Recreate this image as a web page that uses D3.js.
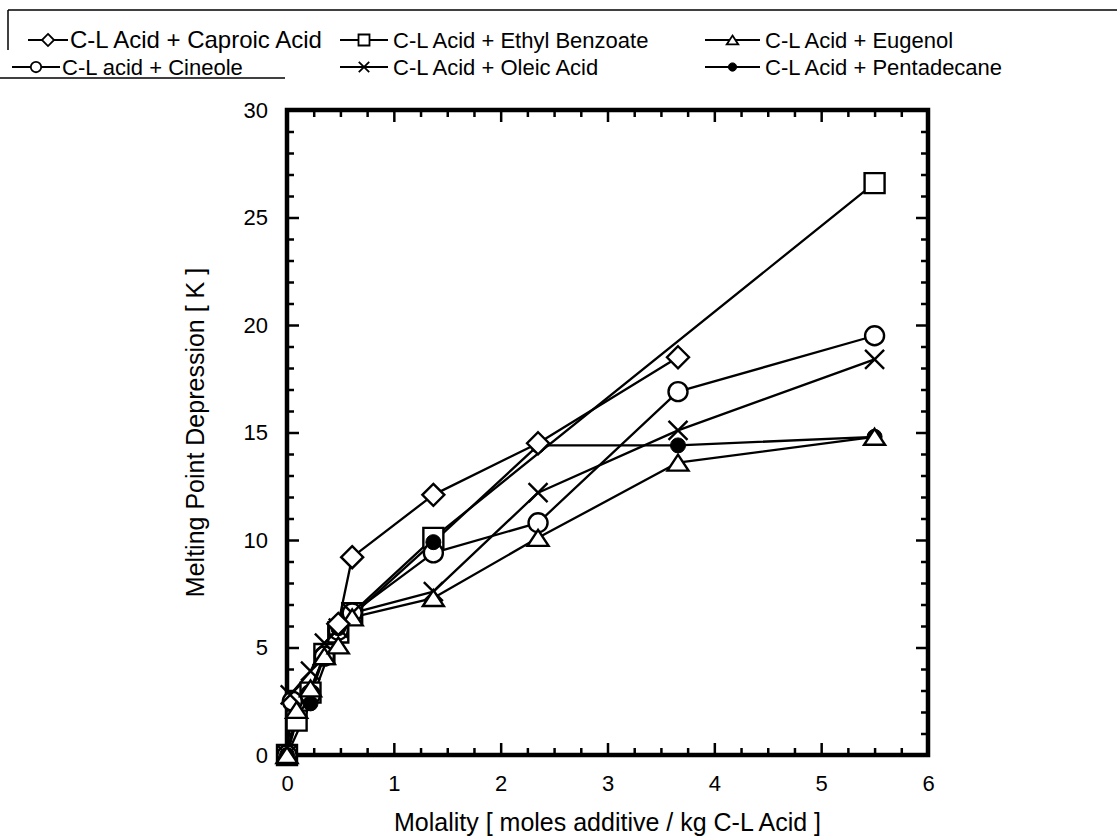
<!DOCTYPE html>
<html>
<head>
<meta charset="utf-8">
<script src="https://cdn.jsdelivr.net/npm/d3@7"></script>
<style>
  html, body { margin: 0; padding: 0; background: #fff; }
  svg { display: block; }
  text { font-family: "Liberation Sans", Arial, sans-serif; fill: #000; }
</style>
</head>
<body>
<svg id="chart" width="1117" height="836"></svg>
<script>
// ---- data (molality, depression) ----
const caproic     = [[0.48,6.1],[0.61,9.2],[1.37,12.1],[2.35,14.5],[3.66,18.5]];
const ethylBenz   = [[0,0],[0.09,1.6],[0.22,2.9],[0.35,4.7],[0.48,5.7],[0.61,6.6],[1.37,10.1],[5.5,26.6]];
const eugenol     = [[0,0],[0.09,2.1],[0.22,3.1],[0.35,4.6],[0.48,5.1],[0.61,6.4],[1.37,7.3],[2.35,10.1],[3.66,13.6],[5.5,14.8]];
const cineole     = [[0,0],[0.05,2.5],[0.22,2.8],[0.35,4.6],[0.48,5.8],[0.61,6.6],[1.37,9.4],[2.35,10.8],[3.66,16.9],[5.5,19.5]];
const oleic       = [[0,0],[0.03,2.8],[0.22,3.9],[0.35,5.2],[0.48,5.9],[0.61,6.6],[1.37,7.6],[2.35,12.2],[3.66,15.1],[5.5,18.4]];
const pentadecane = [[0,0],[0.22,2.4],[0.48,5.9],[1.37,9.9],[2.35,14.4],[3.66,14.4],[5.5,14.8]];

const seriesNames = ["C-L Acid + Caproic Acid","C-L Acid + Ethyl Benzoate","C-L Acid + Eugenol",
                     "C-L acid + Cineole","C-L Acid + Oleic Acid","C-L Acid + Pentadecane"];
const xTickLabels = [0,1,2,3,4,5,6];
const yTickLabels = [0,5,10,15,20,25,30];
const xTitle = "Molality [ moles additive / kg C-L Acid ]";
const yTitle = "Melting Point Depression [ K ]";

// ---- setup ----
const svg = d3.select("#chart");
const x = d3.scaleLinear().domain([0,6]).range([287,928]);
const y = d3.scaleLinear().domain([0,30]).range([755,110]);

function symPath(type, s) {
  switch(type) {
    case "diamond": { const h=11*s; return `M0,${-h}L${h},0L0,${h}L${-h},0Z`; }
    case "square":  { const h=10*s; return `M${-h},${-h}H${h}V${h}H${-h}Z`; }
    case "triangle":{ const w=10.5*s, h=8*s; return `M0,${-h}L${w},${h}L${-w},${h}Z`; }
    case "circle":  { const r=9.5*s; return `M${r},0A${r},${r} 0 1,1 ${-r},0A${r},${r} 0 1,1 ${r},0Z`; }
    case "fcircle": { const r=7.5*s; return `M${r},0A${r},${r} 0 1,1 ${-r},0A${r},${r} 0 1,1 ${r},0Z`; }
    case "cross":   { const h=9.5*s; return `M${-h},${-h}L${h},${h}M${-h},${h}L${h},${-h}`; }
  }
}

const series = [
  {name: seriesNames[0], data: caproic,     sym: "diamond"},
  {name: seriesNames[1], data: ethylBenz,   sym: "square"},
  {name: seriesNames[2], data: eugenol,     sym: "triangle"},
  {name: seriesNames[3], data: cineole,     sym: "circle"},
  {name: seriesNames[4], data: oleic,       sym: "cross"},
  {name: seriesNames[5], data: pentadecane, sym: "fcircle"}
];
function styleSym(sel, type) {
  if (type === "fcircle") sel.attr("fill","#000").attr("stroke","#000").attr("stroke-width",1);
  else if (type === "cross") sel.attr("fill","none").attr("stroke","#000").attr("stroke-width",2.4);
  else sel.attr("fill","#fff").attr("stroke","#000").attr("stroke-width",2.4);
}

// ---- axes frame & ticks ----
const gAx = svg.append("g");
const xMinor = d3.range(0, 6.001, 0.25).filter(v => Math.abs(v - Math.round(v)) > 1e-6);
const yMinor = d3.range(0, 30.001, 1).filter(v => v % 5 !== 0);
const tickFont = "22px";

function addAxis(gen, transform) {
  const g = gAx.append("g").attr("transform", transform).call(gen);
  g.select(".domain").remove();
  g.selectAll(".tick line").attr("stroke","#000").attr("stroke-width",2.5);
  g.selectAll("text").style("font-family","'Liberation Sans', Arial, sans-serif").style("font-size",tickFont).attr("fill","#000");
  return g;
}
addAxis(d3.axisBottom(x).tickValues(xTickLabels).tickSize(-12).tickPadding(20).tickFormat(d3.format("d")), `translate(0,${y(0)})`);
addAxis(d3.axisBottom(x).tickValues(xMinor).tickSize(-7).tickFormat(""), `translate(0,${y(0)})`);
addAxis(d3.axisTop(x).tickValues(xTickLabels).tickSize(-12).tickFormat(""), `translate(0,${y(30)})`);
addAxis(d3.axisTop(x).tickValues(xMinor).tickSize(-7).tickFormat(""), `translate(0,${y(30)})`);
addAxis(d3.axisLeft(y).tickValues(yTickLabels).tickSize(-12).tickPadding(19).tickFormat(d3.format("d")), `translate(${x(0)},0)`);
addAxis(d3.axisLeft(y).tickValues(yMinor).tickSize(-7).tickFormat(""), `translate(${x(0)},0)`);
addAxis(d3.axisRight(y).tickValues(yTickLabels).tickSize(-12).tickFormat(""), `translate(${x(6)},0)`);
addAxis(d3.axisRight(y).tickValues(yMinor).tickSize(-7).tickFormat(""), `translate(${x(6)},0)`);

gAx.append("rect")
  .attr("x", x(0)).attr("y", y(30))
  .attr("width", x(6)-x(0)).attr("height", y(0)-y(30))
  .attr("fill","none").attr("stroke","#000").attr("stroke-width",4.5);

// axis titles
svg.append("text").attr("x", (x(0)+x(6))/2).attr("y", 822).attr("dy","0.35em")
  .attr("text-anchor","middle").style("font-size","25px").text(xTitle);
svg.append("text").attr("transform", `translate(195,${(y(0)+y(30))/2}) rotate(-90)`).attr("dy","0.35em")
  .attr("text-anchor","middle").style("font-size","25px").text(yTitle);

// ---- lines ----
const line = d3.line().x(d => x(d[0])).y(d => y(d[1]));
const gLines = svg.append("g");
series.forEach(s => {
  gLines.append("path").attr("d", line(s.data))
    .attr("fill","none").attr("stroke","#000").attr("stroke-width",2.3).attr("stroke-linejoin","round");
});

// ---- markers ----
const drawOrder = [1,3,4,5,2,0];
const gMarks = svg.append("g");
drawOrder.forEach(i => {
  const s = series[i];
  const sel = gMarks.selectAll(null).data(s.data).enter().append("path")
    .attr("d", symPath(s.sym, 1))
    .attr("transform", d => `translate(${x(d[0])},${y(d[1])})`);
  styleSym(sel, s.sym);
});

// ---- legend ----
const gLeg = svg.append("g");
gLeg.append("line").attr("x1",8).attr("x2",1117).attr("y1",10).attr("y2",10).attr("stroke","#000").attr("stroke-width",1.5);
gLeg.append("line").attr("x1",8).attr("x2",8).attr("y1",10).attr("y2",50).attr("stroke","#000").attr("stroke-width",1.5);
gLeg.append("line").attr("x1",0).attr("x2",285).attr("y1",78).attr("y2",78).attr("stroke","#000").attr("stroke-width",1.5);

const legPos = [
  {x0:28, x1:68,  tx:70,  ty:40, fs:24},
  {x0:340,x1:388, tx:393, ty:40, fs:22},
  {x0:705,x1:760, tx:765, ty:40, fs:22},
  {x0:12, x1:60,  tx:62,  ty:67, fs:22},
  {x0:340,x1:388, tx:393, ty:67, fs:22},
  {x0:705,x1:760, tx:765, ty:67, fs:22}
];
series.forEach((s,i) => {
  const p = legPos[i];
  gLeg.append("line").attr("x1",p.x0).attr("x2",p.x1).attr("y1",p.ty).attr("y2",p.ty)
    .attr("stroke","#000").attr("stroke-width",2);
  const m = gLeg.append("path").attr("d", symPath(s.sym, 0.55))
    .attr("transform", `translate(${(p.x0+p.x1)/2},${p.ty})`);
  styleSym(m, s.sym);
  if (s.sym !== "fcircle") m.attr("stroke-width",1.8);
  gLeg.append("text").attr("x",p.tx).attr("y",p.ty).attr("dy","0.35em")
    .style("font-size", p.fs+"px").text(s.name);
});
</script>
</body>
</html>
